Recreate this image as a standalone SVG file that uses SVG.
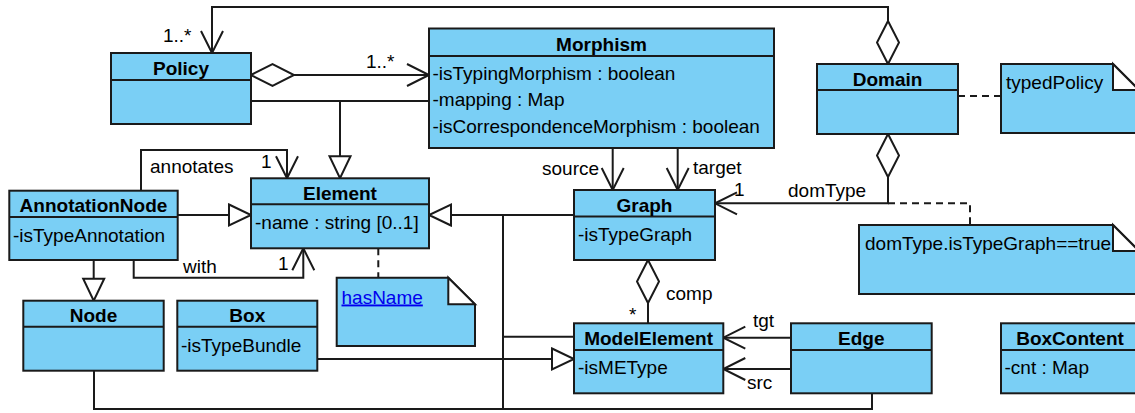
<svg xmlns="http://www.w3.org/2000/svg" width="1135" height="413" viewBox="0 0 1135 413">
<style>
.bx{fill:#7acff5;stroke:#1a1a1a;stroke-width:2}
.dv{stroke:#1a1a1a;stroke-width:2}
.fold{fill:#ffffff;stroke:#1a1a1a;stroke-width:2;stroke-linejoin:miter}
text{font-family:"Liberation Sans",Arial,sans-serif;font-size:19px;fill:#000}
.t{font-weight:bold;text-anchor:middle}
.c{fill:none;stroke:#1a1a1a;stroke-width:2}
.d{fill:none;stroke:#1a1a1a;stroke-width:2;stroke-dasharray:7 5}
.lnk{fill:#0000ee;text-decoration:underline}
</style>
<defs>
<marker id="arrow" markerUnits="userSpaceOnUse" markerWidth="26" markerHeight="26" viewBox="0 0 26 26" refX="24" refY="13" orient="auto" overflow="visible">
<path d="M2,2 L24,13 L2,24" fill="none" stroke="#1a1a1a" stroke-width="2"/>
</marker>
<marker id="tri" markerUnits="userSpaceOnUse" markerWidth="26" markerHeight="26" viewBox="0 0 26 26" refX="24" refY="13" orient="auto" overflow="visible">
<path d="M2,2.5 L24,13 L2,23.5 Z" fill="#ffffff" stroke="#1a1a1a" stroke-width="2"/>
</marker>
<marker id="dia" markerUnits="userSpaceOnUse" markerWidth="46" markerHeight="26" viewBox="0 0 46 26" refX="1" refY="13" orient="auto" overflow="visible">
<path d="M1,13 L22.5,2 L44,13 L22.5,24 Z" fill="#ffffff" stroke="#1a1a1a" stroke-width="2"/>
</marker>
</defs>

<g id="connectors">
<path class="c" d="M888,64 L888,7 L212,7 L212,53" marker-start="url(#dia)" marker-end="url(#arrow)"/>
<path class="c" d="M251,75 L429,75" marker-start="url(#dia)" marker-end="url(#arrow)"/>
<path class="c" d="M251,101 L429,101"/>
<path class="c" d="M340,101 L340,178.3" marker-end="url(#tri)"/>
<path class="c" d="M141,190.7 L141,150 L287,150 L287,178.3" marker-end="url(#arrow)"/>
<path class="c" d="M177.7,215 L251,215" marker-end="url(#tri)"/>
<path class="c" d="M133.7,260 L133.7,277.7 L303.3,277.7 L303.3,248.3" marker-end="url(#arrow)"/>
<path class="c" d="M93.7,260 L93.7,300.7" marker-end="url(#tri)"/>
<path class="c" d="M574,215 L429,215" marker-end="url(#tri)"/>
<path class="c" d="M503,215 L503,409"/>
<path class="c" d="M503,336.7 L574,336.7"/>
<path class="c" d="M94,370.7 L94,409 L872,409 L872,393.3"/>
<path class="c" d="M317.3,359 L574,359" marker-end="url(#tri)"/>
<path class="c" d="M612.7,148 L612.7,190" marker-end="url(#arrow)"/>
<path class="c" d="M677.7,148 L677.7,190" marker-end="url(#arrow)"/>
<path class="c" d="M888,134 L888,203.3 L715,203.3" marker-start="url(#dia)" marker-end="url(#arrow)"/>
<path class="d" d="M888,203.3 L970,203.3 L970,225"/>
<path class="d" d="M958,96 L1001,96"/>
<path class="d" d="M378.3,248.3 L378.3,277.7"/>
<path class="c" d="M648,260 L648,323.3" marker-start="url(#dia)"/>
<path class="c" d="M791,337.7 L723.3,337.7" marker-end="url(#arrow)"/>
<path class="c" d="M791,369 L723.3,369" marker-end="url(#arrow)"/>
<text x="163" y="41.5">1..*</text>
<text x="366" y="68">1..*</text>
<text x="150" y="173">annotates</text>
<text x="261" y="168">1</text>
<text x="183" y="273">with</text>
<text x="278" y="270">1</text>
<text x="542" y="175">source</text>
<text x="693" y="174">target</text>
<text x="734" y="195.5">1</text>
<text x="788" y="197">domType</text>
<text x="666" y="300">comp</text>
<text x="629" y="321">*</text>
<text x="753" y="327">tgt</text>
<text x="747" y="389">src</text>
</g>

<g id="Policy">
<rect class="bx" x="111" y="53" width="140" height="71"/>
<line class="dv" x1="111" y1="80" x2="251" y2="80"/>
<text class="t" x="181" y="74.5">Policy</text>
</g>

<g id="Morphism">
<rect class="bx" x="429" y="28.5" width="345" height="119.5"/>
<line class="dv" x1="429" y1="56" x2="774" y2="56"/>
<text class="t" x="601.5" y="50.5">Morphism</text>
<text x="432.5" y="79.5">-isTypingMorphism : boolean</text>
<text x="432.5" y="106">-mapping : Map</text>
<text x="432.5" y="132.5">-isCorrespondenceMorphism : boolean</text>
</g>

<g id="Domain">
<rect class="bx" x="817" y="64" width="141" height="70"/>
<line class="dv" x1="817" y1="90" x2="958" y2="90"/>
<text class="t" x="887.5" y="85.5">Domain</text>
</g>

<g id="typedPolicy">
<path class="bx" d="M1001,64 L1113,64 L1139,90 L1139,133 L1001,133 Z"/>
<path class="fold" d="M1113,64 L1113,90 L1139,90 Z"/>
<text x="1006" y="89">typedPolicy</text>
</g>

<g id="Element">
<rect class="bx" x="251" y="178.3" width="178" height="70"/>
<line class="dv" x1="251" y1="204.3" x2="429" y2="204.3"/>
<text class="t" x="340" y="199.5">Element</text>
<text x="255" y="229.3">-name : string [0..1]</text>
</g>

<g id="AnnotationNode">
<rect class="bx" x="9.3" y="190.7" width="168.4" height="69.3"/>
<line class="dv" x1="9.3" y1="217" x2="177.7" y2="217"/>
<text class="t" x="93.5" y="212">AnnotationNode</text>
<text x="13" y="241.5">-isTypeAnnotation</text>
</g>

<g id="Graph">
<rect class="bx" x="574" y="190" width="141" height="70"/>
<line class="dv" x1="574" y1="216.5" x2="715" y2="216.5"/>
<text class="t" x="644.5" y="211.5">Graph</text>
<text x="578" y="241">-isTypeGraph</text>
</g>

<g id="domTypeNote">
<path class="bx" d="M859,225 L1113,225 L1139,251 L1139,294 L859,294 Z"/>
<path class="fold" d="M1113,225 L1113,251 L1139,251 Z"/>
<text x="865" y="250">domType.isTypeGraph==true</text>
</g>

<g id="hasName">
<path class="bx" d="M336.7,277.7 L448.3,277.7 L475,304.3 L475,346 L336.7,346 Z"/>
<path class="fold" d="M448.3,277.7 L448.3,304.3 L475,304.3 Z"/>
<text class="lnk" x="341.5" y="303.5">hasName</text>
</g>

<g id="Node">
<rect class="bx" x="23.3" y="300.7" width="140.4" height="70"/>
<line class="dv" x1="23.3" y1="326.7" x2="163.7" y2="326.7"/>
<text class="t" x="93.5" y="322">Node</text>
</g>

<g id="Box">
<rect class="bx" x="177.3" y="300.7" width="140" height="70"/>
<line class="dv" x1="177.3" y1="326.7" x2="317.3" y2="326.7"/>
<text class="t" x="247.3" y="322">Box</text>
<text x="181" y="351.5">-isTypeBundle</text>
</g>

<g id="ModelElement">
<rect class="bx" x="574" y="323.3" width="149.3" height="70"/>
<line class="dv" x1="574" y1="350" x2="723.3" y2="350"/>
<text class="t" x="648.6" y="345">ModelElement</text>
<text x="578" y="374">-isMEType</text>
</g>

<g id="Edge">
<rect class="bx" x="791" y="323.3" width="140.7" height="70"/>
<line class="dv" x1="791" y1="350" x2="931.7" y2="350"/>
<text class="t" x="861.3" y="345">Edge</text>
</g>

<g id="BoxContent">
<rect class="bx" x="1001" y="323.3" width="139" height="70"/>
<line class="dv" x1="1001" y1="350" x2="1140" y2="350"/>
<text class="t" x="1070" y="345">BoxContent</text>
<text x="1004.5" y="374">-cnt : Map</text>
</g>
</svg>
